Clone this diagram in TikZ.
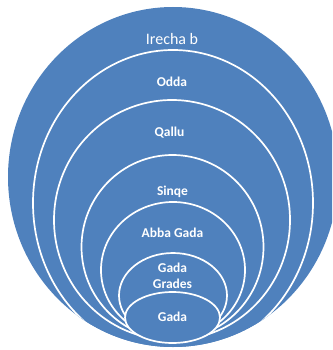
\documentclass[tikz,border=0pt]{standalone}
\usepackage{fontspec}
\setmainfont{Carlito}
\definecolor{ringblue}{HTML}{4F81BD}
\begin{document}
\begin{tikzpicture}[x=1pt,y=-1pt,
  ring/.style={fill=ringblue,draw=white,line width=1.7pt},
  lbl/.style={text=white,font=\bfseries\fontsize{13.5}{14}\selectfont,anchor=base,inner sep=0pt},
  toplbl/.style={text=white,font=\fontsize{16}{17}\selectfont,anchor=base,inner sep=0pt}]
\useasboundingbox (0,0) rectangle (332,350);
\clip (0,0) rectangle (332,350);
\fill[ringblue] (173,177) ellipse [x radius=165, y radius=170];
\begin{scope}
\clip (173,177) ellipse [x radius=165, y radius=170];
\draw[ring] (173,203) ellipse [x radius=140, y radius=153];
\draw[ring] (172,220) ellipse [x radius=118, y radius=120];
\draw[ring] (172.5,247) ellipse [x radius=91, y radius=92];
\draw[ring] (173,270) ellipse [x radius=72, y radius=68];
\draw[ring] (173,295.5) ellipse [x radius=54, y radius=42.5];
\draw[ring] (172.5,317.5) ellipse [x radius=47.5, y radius=25.5];
\end{scope}
\node[toplbl] (irecha) at (172,45) {Irecha b};
\node[lbl] (odda) at (172,87) {Odda};
\node[lbl] (qallu) at (169.5,136.5) {Qallu};
\node[lbl] (sinqe) at (172.5,195) {Sinqe};
\node[lbl] (abba) at (172.5,237.5) {Abba Gada};
\node[lbl] (grades1) at (172.5,272) {Gada};
\node[lbl] (grades2) at (172.5,288.5) {Grades};
\node[lbl] (gada) at (172.5,321) {Gada};
\end{tikzpicture}
\end{document}
